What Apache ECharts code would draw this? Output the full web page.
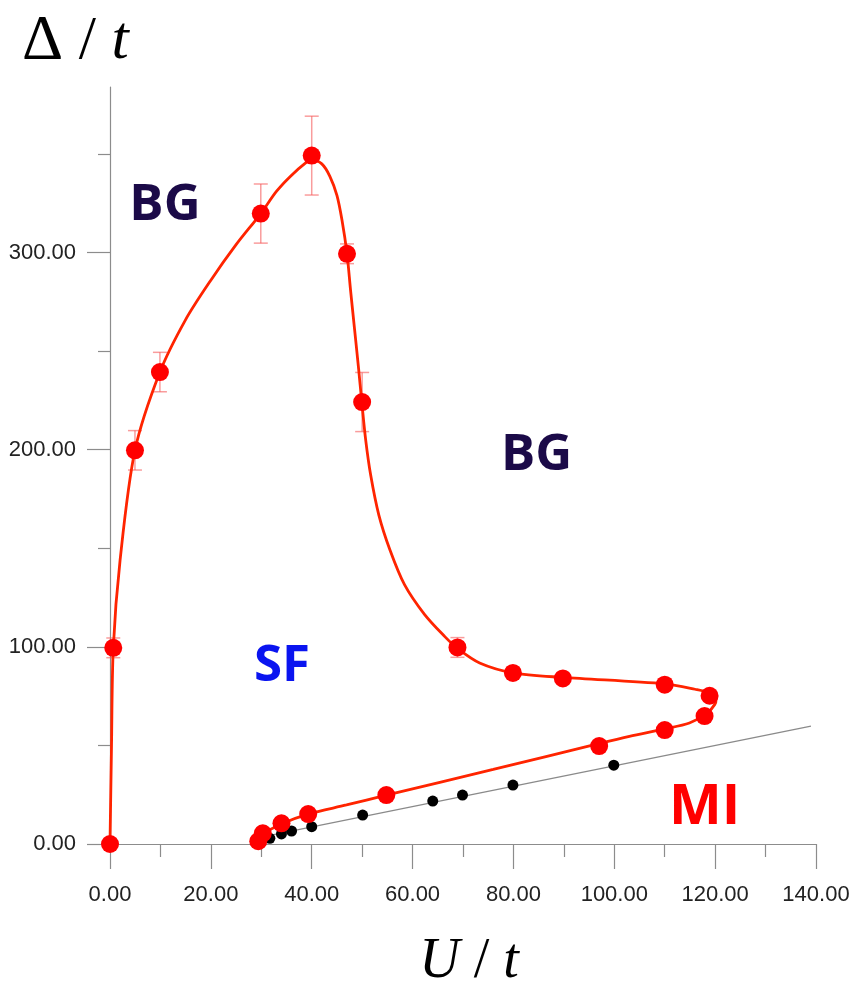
<!DOCTYPE html>
<html>
<head>
<meta charset="utf-8">
<style>
  html, body { margin: 0; padding: 0; background: #fff; }
  #chart { width: 854px; height: 990px; }
</style>
<script src="https://cdn.jsdelivr.net/npm/echarts@6/dist/echarts.min.js"></script>
</head>
<body>
<div id="chart"></div>
<script>
// measured points (red dots)
const redU = [0, 0.65, 4.95, 9.9, 29.9, 40, 47, 50, 68.9, 79.9, 89.8, 110, 118.9, 117.9, 110, 97, 54.8, 39.3, 34, 30.3, 29.4];
const redD = [0, 99.5, 199.7, 239.4, 319.8, 349.2, 299.4, 224.2, 99.7, 86.8, 84.0, 80.8, 75.2, 64.9, 57.8, 49.7, 24.8, 15.2, 10.5, 5.4, 1.4];

// boundary curve
const curveU = [0, 0.3, 0.65, 2, 4.95, 9.9, 15, 20, 25, 29.9, 33, 35.7, 38.8, 40, 42, 43.6, 45, 46, 47, 47.7, 48.5, 49.3, 49.9, 50.7, 51.7, 53.3, 55.5, 58.4, 62.4, 66.4, 68.9, 73.3, 79.9, 89.8, 110, 116, 118.9, 120.2, 119.9, 118.3, 114.9, 110, 103, 96.9, 76, 54.8, 46.9, 39.3, 34.2, 30.5, 29.3];
const curveD = [0, 50, 99.5, 144, 199.7, 239.4, 266, 286, 304, 319.8, 331, 338.5, 345.5, 347, 345, 338.7, 329, 316.5, 299.4, 281, 261, 241, 225, 205, 187, 167, 149.3, 131.6, 116.4, 105.2, 99.2, 91.8, 86.8, 84.5, 81.2, 78.5, 76.6, 73.6, 70.7, 66.1, 61.4, 58.4, 54.6, 50.9, 37.8, 24.8, 19.8, 15.2, 10.4, 5.2, 0.8];

// error bars on some of the red points
const errU = [0.65, 4.95, 9.9, 29.9, 40, 47, 50, 68.9];
const errD = [99.5, 199.7, 239.4, 319.8, 349.2, 299.4, 224.2, 99.7];
const errSize = [5, 10, 10, 15, 20, 5, 15, 5];

// black points and the gray line
const blackU = [31.7, 34, 36, 40, 50.1, 64, 69.9, 79.9, 99.9];
const blackD = [2.9, 5.1, 6.6, 8.8, 14.7, 21.8, 24.8, 29.9, 40];
const lineU = [30, 139];
const lineD = [3.5, 59.8];

// region names
const regionNames = ['BG', 'BG', 'SF', 'MI'];
const regionU = [10.9, 84.6, 34.1, 117.9];
const regionD = [324, 197, 90, 18];
const regionColors = ['#1b0a48', '#1b0a48', '#0a14f0', '#ff0000'];

const yTicks = [0, 100, 200, 300];
const yMinorTicks = [50, 150, 250, 350];

const zip = (a, b) => a.map((v, i) => [v, b[i]]);

const chart = echarts.init(document.getElementById('chart'));

const axisGray = '#8c8c8c';
const labelFont = { fontFamily: 'Liberation Sans', fontSize: 22, color: '#222' };

const option = {
  animation: false,
  title: {
    text: '{d|Δ} / {t|t}',
    left: 17,
    top: 5,
    textStyle: {
      fontFamily: 'Liberation Serif',
      fontSize: 62,
      fontWeight: 'normal',
      color: '#000',
      rich: {
        d: { fontFamily: 'Liberation Serif', fontSize: 64, color: '#000' },
        t: { fontFamily: 'Liberation Serif', fontSize: 62, fontStyle: 'italic', color: '#000' }
      }
    }
  },
  grid: {
    left: 110, right: 38, top: 87, bottom: 146,
    containLabel: false,
    outerBoundsMode: 'none'
  },
  xAxis: {
    type: 'value',
    min: 0,
    max: 140,
    interval: 20,
    name: '{i|U} / {i|t}',
    nameLocation: 'middle',
    nameGap: 90,
    nameTextStyle: {
      fontFamily: 'Liberation Serif',
      fontSize: 56,
      color: '#000',
      padding: [0, 0, 0, 12],
      rich: {
        i: { fontFamily: 'Liberation Serif', fontSize: 56, fontStyle: 'italic', color: '#000' }
      }
    },
    axisLine: { lineStyle: { color: axisGray, width: 1.2 } },
    axisTick: { show: true, inside: false, length: 25, lineStyle: { color: axisGray, width: 1.2 } },
    minorTick: { show: true, splitNumber: 2, length: 13, lineStyle: { color: axisGray, width: 1.2 } },
    axisLabel: Object.assign({ margin: 40, formatter: v => v.toFixed(2) }, labelFont),
    splitLine: { show: false }
  },
  yAxis: [
    {
      type: 'value',
      min: 0,
      max: 384,
      axisLine: { show: true, lineStyle: { color: axisGray, width: 1.2 } },
      axisTick: { show: true, inside: false, length: 23, customValues: yTicks, lineStyle: { color: axisGray, width: 1.2 } },
      axisLabel: Object.assign({ margin: 34, customValues: yTicks, formatter: v => v.toFixed(2) }, labelFont),
      splitLine: { show: false }
    },
    {
      type: 'value',
      min: 0,
      max: 384,
      position: 'left',
      axisLine: { show: false },
      axisTick: { show: true, inside: false, length: 12, customValues: yMinorTicks, lineStyle: { color: axisGray, width: 1.2 } },
      axisLabel: { show: false },
      splitLine: { show: false }
    }
  ],
  series: [
    {
      name: 'fit line',
      type: 'line',
      data: zip(lineU, lineD),
      showSymbol: false,
      lineStyle: { color: '#8a8a8a', width: 1.2 },
      z: 1
    },
    {
      name: 'black points',
      type: 'scatter',
      data: zip(blackU, blackD),
      symbolSize: 11,
      itemStyle: { color: '#000', opacity: 1 },
      z: 2
    },
    {
      name: 'error bars',
      type: 'custom',
      data: errU.map((u, i) => [u, errD[i] - errSize[i], errD[i] + errSize[i]]),
      renderItem: function (params, api) {
        const lo = api.coord([api.value(0), api.value(1)]);
        const hi = api.coord([api.value(0), api.value(2)]);
        const half = 7;
        const style = { stroke: 'rgba(245, 90, 90, 0.6)', lineWidth: 1.5 };
        return {
          type: 'group',
          children: [
            { type: 'line', shape: { x1: lo[0], y1: lo[1], x2: hi[0], y2: hi[1] }, style: style },
            { type: 'line', shape: { x1: lo[0] - half, y1: lo[1], x2: lo[0] + half, y2: lo[1] }, style: style },
            { type: 'line', shape: { x1: hi[0] - half, y1: hi[1], x2: hi[0] + half, y2: hi[1] }, style: style }
          ]
        };
      },
      z: 3
    },
    {
      name: 'boundary',
      type: 'line',
      data: zip(curveU, curveD),
      smooth: 0.3,
      showSymbol: false,
      lineStyle: { color: '#ff2400', width: 2.8 },
      z: 4
    },
    {
      name: 'red points',
      type: 'scatter',
      data: zip(redU, redD),
      symbolSize: 18,
      itemStyle: { color: '#ff0000', opacity: 1 },
      z: 5
    },
    {
      name: 'regions',
      type: 'scatter',
      symbolSize: 0,
      data: regionNames.map((n, i) => ({
        value: [regionU[i], regionD[i]],
        name: n,
        label: { color: regionColors[i], fontSize: n === 'MI' ? 56 : 51 }
      })),
      itemStyle: { opacity: 1 },
      label: {
        show: true,
        position: 'inside',
        formatter: p => p.name,
        fontFamily: 'Open Sans',
        fontWeight: 'bold',
        align: 'center',
        verticalAlign: 'middle'
      },
      silent: true,
      z: 6
    }
  ]
};

chart.setOption(option);
</script>
</body>
</html>
